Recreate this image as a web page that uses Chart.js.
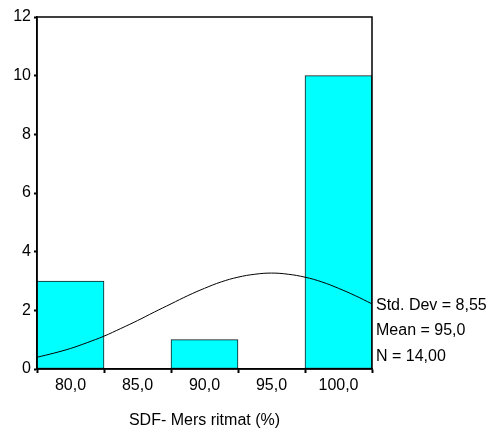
<!DOCTYPE html>
<html>
<head>
<meta charset="utf-8">
<script src="https://cdn.jsdelivr.net/npm/chart.js@4"></script>
<style>
  html, body { margin: 0; padding: 0; background: #fff; }
  #wrap { width: 496px; height: 435px; }
</style>
</head>
<body>
<div id="wrap"><canvas id="c" width="496" height="435"></canvas></div>
<script>
// Histogram bins (bin centres) and counts
const binCenters = [80, 85, 90, 95, 100];
const counts = [3, null, 1, null, 10];

// Fitted normal curve heights (frequency scale)
const curveX = [77.5, 78.75, 80, 81.25, 82.5, 83.75, 85, 86.25, 87.5, 88.75, 90, 91.25, 92.5, 93.75, 95,
                96.25, 97.5, 98.75, 100, 101.25, 102.5];
const curveY = [0.40, 0.54, 0.70, 0.90, 1.12, 1.38, 1.65, 1.94, 2.22, 2.50, 2.75, 2.97, 3.13, 3.23, 3.27,
                3.23, 3.13, 2.97, 2.75, 2.50, 2.22];

// Axis ticks
const xTicks = [80, 85, 90, 95, 100];
const yTicks = [0, 2, 4, 6, 8, 10, 12];

// Summary statistics
const stdDev = 8.55;
const mean = 95.0;
const nCases = 14;

const xTitle = 'SDF- Mers ritmat (%)';
const FONT = 'Arial, "Liberation Sans", sans-serif';

const fmt = (v, d) => v.toFixed(d).replace('.', ',');

const statLines = [
  'Std. Dev = ' + fmt(stdDev, 2),
  'Mean = ' + fmt(mean, 1),
  'N = ' + fmt(nCases, 2)
];

const framePlugin = {
  id: 'frame',
  afterDatasetsDraw(chart) {
    const { ctx, chartArea: a } = chart;
    ctx.save();
    ctx.strokeStyle = '#000';
    ctx.lineWidth = 1.5;
    ctx.strokeRect(a.left, a.top, a.right - a.left, a.bottom - a.top);
    ctx.restore();
  },
  afterDraw(chart) {
    const { ctx, chartArea: a } = chart;
    ctx.save();
    ctx.fillStyle = '#000';
    ctx.font = '16px ' + FONT;
    ctx.textBaseline = 'middle';
    ctx.textAlign = 'left';
    const ys = [306, 331, 357];
    statLines.forEach((t, i) => ctx.fillText(t, a.right + 4, ys[i]));
    ctx.restore();
  }
};

new Chart(document.getElementById('c'), {
  type: 'bar',
  data: {
    datasets: [
      {
        type: 'line',
        data: curveX.map((x, i) => ({ x, y: curveY[i] })),
        borderColor: '#000',
        borderWidth: 1,
        pointRadius: 0,
        tension: 0.4,
        fill: false,
        order: 0
      },
      {
        type: 'bar',
        data: binCenters.map((x, i) => ({ x, y: counts[i] })),
        backgroundColor: '#00FFFF',
        borderColor: '#1a1a1a',
        borderWidth: 1,
        borderSkipped: false,
        barPercentage: 1.0,
        categoryPercentage: 1.0,
        order: 1
      }
    ]
  },
  options: {
    responsive: false,
    animation: false,
    devicePixelRatio: 1,
    layout: { padding: { left: 0, top: 17, right: 124, bottom: 0 } },
    plugins: { legend: { display: false }, tooltip: { enabled: false } },
    scales: {
      x: {
        type: 'linear',
        min: 77.5,
        max: 102.5,
        offset: false,
        afterBuildTicks(scale) { scale.ticks = xTicks.map(v => ({ value: v })); },
        afterFit(scale) { scale.height = 66; },
        ticks: {
          color: '#000',
          font: { family: FONT, size: 16 },
          padding: 3,
          maxRotation: 0,
          callback: v => fmt(v, 1)
        },
        grid: { drawOnChartArea: false, drawTicks: true, tickLength: 4, tickWidth: 2, color: '#000' },
        border: { display: true, color: '#000', width: 1.5 },
        title: {
          display: true,
          text: xTitle,
          color: '#000',
          font: { family: FONT, size: 16 },
          padding: { top: 0, bottom: 5 }
        }
      },
      y: {
        min: 0,
        max: 12,
        afterBuildTicks(scale) { scale.ticks = yTicks.map(v => ({ value: v })); },
        afterFit(scale) { scale.width = 37; },
        ticks: {
          color: '#000',
          font: { family: FONT, size: 16 },
          padding: 3
        },
        grid: { drawOnChartArea: false, drawTicks: true, tickLength: 3, tickWidth: 2, color: '#000' },
        border: { display: true, color: '#000', width: 1.5 }
      }
    }
  },
  plugins: [framePlugin]
});
</script>
</body>
</html>
